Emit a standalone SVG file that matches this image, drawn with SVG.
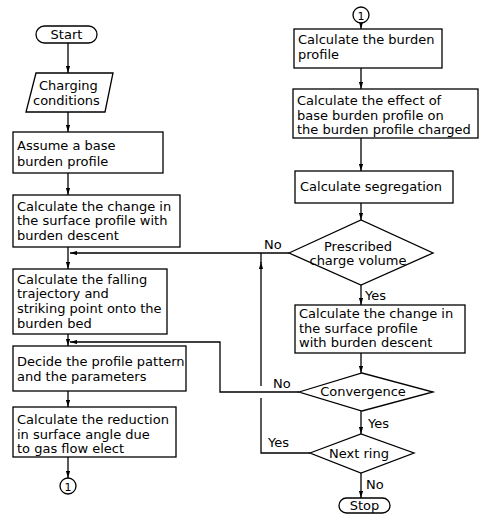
<svg xmlns="http://www.w3.org/2000/svg" width="483" height="516" viewBox="0 0 483 516">
<style>
.s{fill:#fff;stroke:#000;stroke-width:1.3}
.c{fill:none;stroke:#000;stroke-width:1.3}
.t{font-family:"DejaVu Sans","Liberation Sans",sans-serif;font-size:13px;fill:#000}
.m{text-anchor:middle}
</style>
<defs>
<marker id="a" viewBox="0 0 10 6" refX="10" refY="3" markerWidth="7" markerHeight="4.2" markerUnits="userSpaceOnUse" orient="auto">
<path d="M0,0 L10,3 L0,6 z" fill="#000"/>
</marker>
</defs>
<g id="connectors">
<line class="c" x1="68" y1="43" x2="68" y2="73" marker-end="url(#a)"/>
<line class="c" x1="68" y1="112" x2="68" y2="132" marker-end="url(#a)"/>
<line class="c" x1="68" y1="173" x2="68" y2="195" marker-end="url(#a)"/>
<line class="c" x1="68" y1="247" x2="68" y2="269" marker-end="url(#a)"/>
<line class="c" x1="68" y1="334" x2="68" y2="346" marker-end="url(#a)"/>
<line class="c" x1="68" y1="391" x2="68" y2="407" marker-end="url(#a)"/>
<line class="c" x1="68" y1="457" x2="68" y2="478" marker-end="url(#a)"/>
<line class="c" x1="361" y1="23" x2="361" y2="29" marker-end="url(#a)"/>
<line class="c" x1="361" y1="68" x2="361" y2="89" marker-end="url(#a)"/>
<line class="c" x1="361" y1="138" x2="361" y2="171" marker-end="url(#a)"/>
<line class="c" x1="361" y1="203" x2="361" y2="220" marker-end="url(#a)"/>
<line class="c" x1="361" y1="285" x2="361" y2="305" marker-end="url(#a)"/>
<line class="c" x1="361" y1="353" x2="361" y2="373" marker-end="url(#a)"/>
<line class="c" x1="361" y1="411" x2="361" y2="434" marker-end="url(#a)"/>
<line class="c" x1="361" y1="473" x2="361" y2="498" marker-end="url(#a)"/>
<line class="c" x1="289" y1="253" x2="70" y2="253" marker-end="url(#a)"/>
<polyline class="c" points="299,392 220,392 220,342 70,342" marker-end="url(#a)"/>
<polyline class="c" points="310,453 261,453 261,398"/>
<line class="c" x1="261" y1="386" x2="261" y2="262" marker-end="url(#a)"/>
<line class="c" x1="261" y1="263" x2="261" y2="253"/>
</g>
<g id="start">
<rect class="s" x="36" y="26" width="61" height="17" rx="8.5"/>
<text class="t m" x="66.5" y="39">Start</text>
</g>
<g id="charging">
<polygon class="s" points="36,73 113,73 105,112 26,112"/>
<text class="t" x="39" y="90">Charging</text>
<text class="t" x="33" y="105">conditions</text>
</g>
<g id="assume">
<rect class="s" x="13" y="132" width="150" height="41"/>
<text class="t" x="17" y="150">Assume  a  base</text>
<text class="t" x="17" y="166">burden  profile</text>
</g>
<g id="change1">
<rect class="s" x="13" y="195" width="167" height="52"/>
<text class="t" x="17" y="211">Calculate the change in</text>
<text class="t" x="17" y="225">the surface profile with</text>
<text class="t" x="17" y="240">burden descent</text>
</g>
<g id="falling">
<rect class="s" x="13" y="269" width="154" height="65"/>
<text class="t" x="17" y="284">Calculate the falling</text>
<text class="t" x="17" y="298">trajectory and</text>
<text class="t" x="17" y="313">striking point onto the</text>
<text class="t" x="17" y="328">burden bed</text>
</g>
<g id="decide">
<rect class="s" x="13" y="346" width="173" height="45"/>
<text class="t" x="17" y="366">Decide the profile pattern</text>
<text class="t" x="17" y="381">and the parameters</text>
</g>
<g id="reduction">
<rect class="s" x="13" y="407" width="163" height="50"/>
<text class="t" x="17" y="424">Calculate the reduction</text>
<text class="t" x="17" y="438.5">in surface angle due</text>
<text class="t" x="17" y="453">to gas flow elect</text>
</g>
<g id="conn1-out">
<circle class="s" cx="68" cy="486" r="8"/>
<text class="t m" x="68" y="490.5" style="font-size:11px">1</text>
</g>
<g id="conn1-in">
<circle class="s" cx="361" cy="15" r="8"/>
<text class="t m" x="361" y="19.5" style="font-size:11px">1</text>
</g>
<g id="burden">
<rect class="s" x="294" y="29" width="148" height="39"/>
<text class="t" x="298" y="44">Calculate the burden</text>
<text class="t" x="298" y="59">profile</text>
</g>
<g id="effect">
<rect class="s" x="293" y="89" width="185" height="49"/>
<text class="t" x="297" y="105">Calculate the effect of</text>
<text class="t" x="297" y="120">base burden profile on</text>
<text class="t" x="297" y="134">the burden profile charged</text>
</g>
<g id="segregation">
<rect class="s" x="295" y="171" width="158" height="32"/>
<text class="t" x="300" y="191">Calculate segregation</text>
</g>
<g id="prescribed">
<polygon class="s" points="289,253 361,220 433,253 361,285"/>
<text class="t m" x="358" y="251">Prescribed</text>
<text class="t m" x="358" y="265">charge volume</text>
</g>
<g id="change2">
<rect class="s" x="295" y="305" width="170" height="48"/>
<text class="t" x="299" y="318">Calculate the change in</text>
<text class="t" x="299" y="333">the surface profile</text>
<text class="t" x="299" y="347">with burden descent</text>
</g>
<g id="convergence">
<polygon class="s" points="299,392 362,373 433,392 362,411"/>
<text class="t m" x="363" y="396">Convergence</text>
</g>
<g id="nextring">
<polygon class="s" points="310,453 361,434 414,453 361,473"/>
<text class="t m" x="359" y="458">Next ring</text>
</g>
<g id="stop">
<rect class="s" x="339" y="498" width="51" height="15" rx="7.5"/>
<text class="t m" x="364.5" y="510">Stop</text>
</g>
<g id="labels">
<text class="t" x="264" y="249">No</text>
<text class="t" x="365" y="300">Yes</text>
<text class="t" x="273" y="388">No</text>
<text class="t" x="368" y="428">Yes</text>
<text class="t" x="268" y="447">Yes</text>
<text class="t" x="366" y="489">No</text>
</g>
</svg>
